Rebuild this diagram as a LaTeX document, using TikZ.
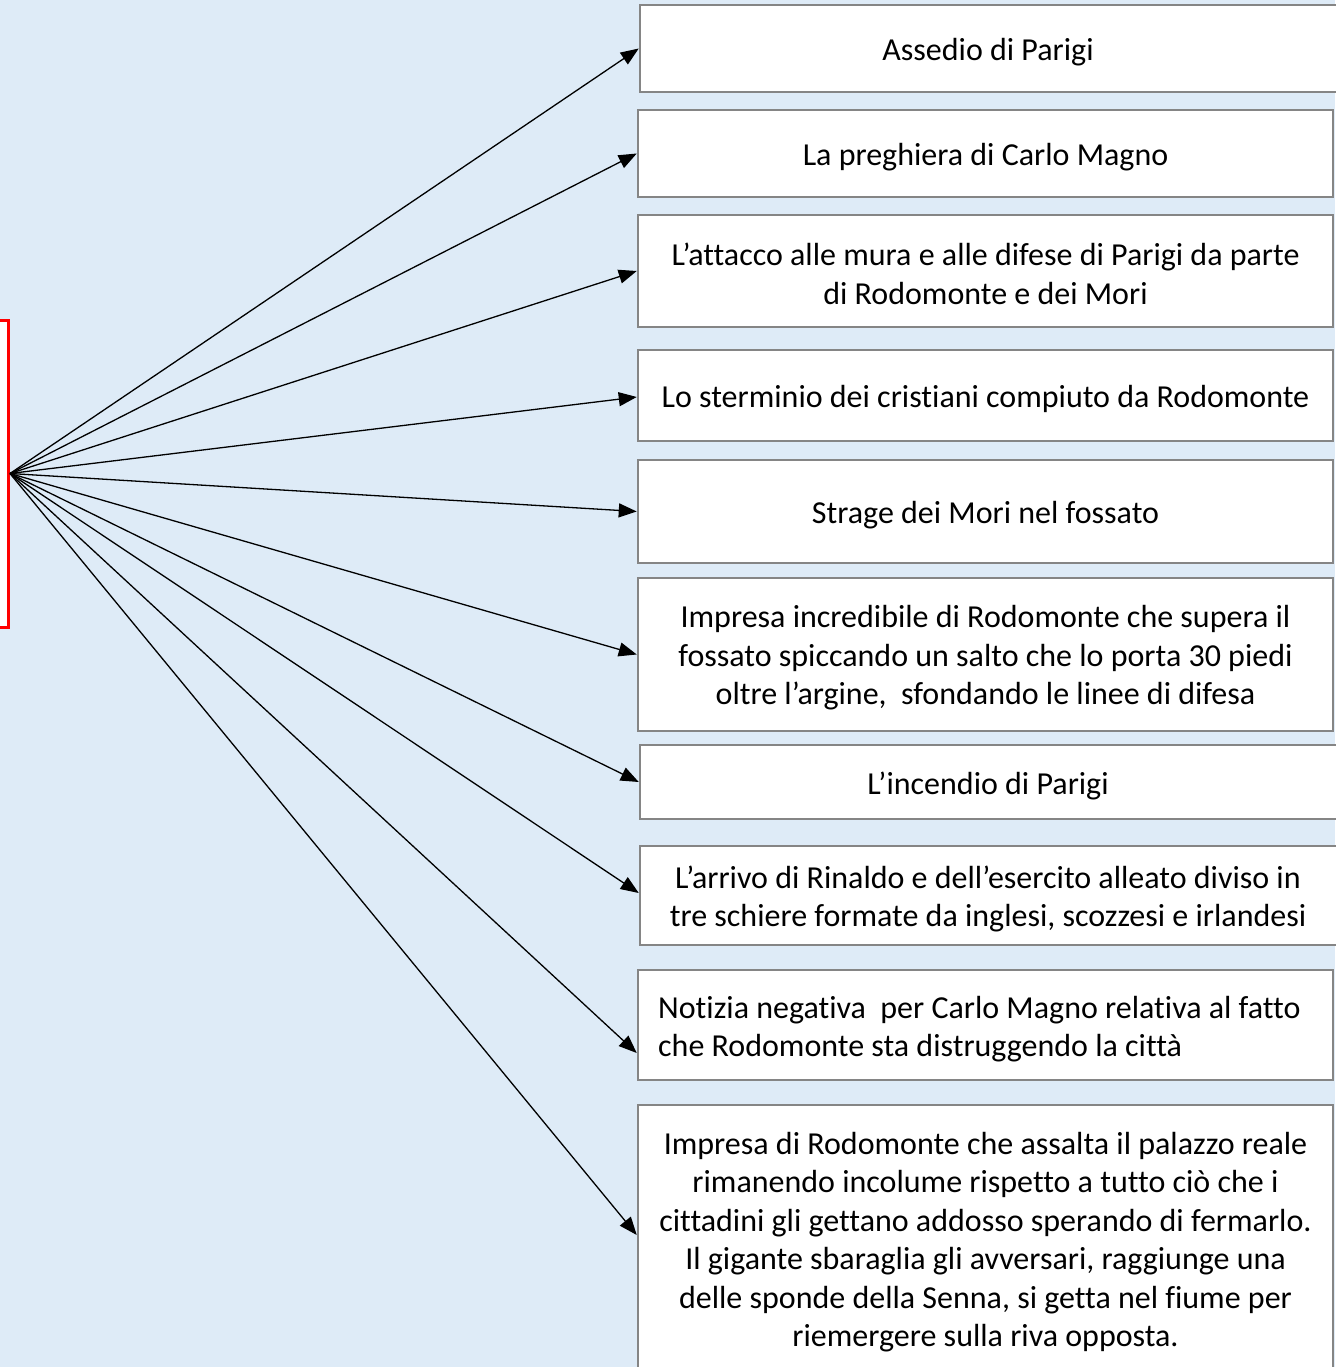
\documentclass[tikz,border=0pt]{standalone}
\usepackage{fontspec}
\setmainfont{Carlito}[Ligatures={NoCommon}]
\usetikzlibrary{arrows.meta}
\definecolor{bgblue}{HTML}{DEEBF7}
\definecolor{boxgray}{HTML}{858585}
\begin{document}
\begin{tikzpicture}[x=1pt,y=-1pt,
  evbox/.style={draw=boxgray, line width=2.5pt, fill=white, rectangle, inner sep=0pt},
  txt/.style={inner sep=0pt, align=center, font=\fontsize{32}{38.5}\selectfont},
  conn/.style={line width=1.3pt, -{Triangle[length=18pt,width=14pt]}},
]
\useasboundingbox (0,0) rectangle (1335,1367);
\fill[bgblue] (0,0) rectangle (1335,1367);

\node[draw=red, line width=3pt, fill=white, minimum width=30pt, minimum height=307pt, inner sep=0pt, anchor=east] (src) at (10,473.5) {};

\node[evbox, minimum width=700pt, minimum height=87pt] (b1) at (990,48.5) {};
\node[evbox, minimum width=695pt, minimum height=87pt] (b2) at (985.5,153.5) {};
\node[evbox, minimum width=695pt, minimum height=112pt] (b3) at (985.5,271) {};
\node[evbox, minimum width=695pt, minimum height=91pt] (b4) at (985.5,395.5) {};
\node[evbox, minimum width=695pt, minimum height=103pt] (b5) at (985.5,511.5) {};
\node[evbox, minimum width=695pt, minimum height=153pt] (b6) at (985.5,654.5) {};
\node[evbox, minimum width=700pt, minimum height=74pt] (b7) at (990,782) {};
\node[evbox, minimum width=700pt, minimum height=99pt] (b8) at (990,895.5) {};
\node[evbox, minimum width=695pt, minimum height=110pt] (b9) at (985.5,1025) {};
\node[evbox, minimum width=695pt, minimum height=267pt] (b10) at (985.5,1238.5) {};

\node[txt] (b1t) at ([xshift=-2pt,yshift=-3.5pt]b1.center) {Assedio di Parigi};
\node[txt] (b2t) at ([yshift=-3.5pt]b2.center) {La preghiera di Carlo Magno};
\node[txt] (b3t) at ([yshift=-3pt]b3.center) {L’attacco alle mura e alle difese di Parigi da parte\\di Rodomonte e dei Mori};
\node[txt] (b4t) at ([yshift=-3.5pt]b4.center) {Lo sterminio dei cristiani compiuto da Rodomonte};
\node[txt] (b5t) at ([yshift=-3.5pt]b5.center) {Strage dei Mori nel fossato};
\node[txt] (b6t) at ([yshift=-3.5pt]b6.center) {Impresa incredibile di Rodomonte che supera il\\fossato spiccando un salto che lo porta 30 piedi\\oltre l’argine,\ \ sfondando le linee di difesa};
\node[txt] (b7t) at ([xshift=-2pt,yshift=-3.5pt]b7.center) {L’incendio di Parigi};
\node[txt] (b8t) at ([xshift=-2pt,yshift=-3.5pt]b8.center) {L’arrivo di Rinaldo e dell’esercito alleato diviso in\\tre schiere formate da inglesi, scozzesi e irlandesi};
\node[txt, align=left, anchor=west] (b9t) at (658,1029) {Notizia negativa\ \ per Carlo Magno relativa al fatto\\che Rodomonte sta distruggendo la città};
\node[txt] (b10t) at ([yshift=-3.5pt]b10.center) {Impresa di Rodomonte che assalta il palazzo reale\\rimanendo incolume rispetto a tutto ciò che i\\cittadini gli gettano addosso sperando di fermarlo.\\Il gigante sbaraglia gli avversari, raggiunge una\\delle sponde della Senna, si getta nel fiume per\\riemergere sulla riva opposta.};

\draw[conn] (src.east) -- (b1.west);
\draw[conn] (src.east) -- (b2.west);
\draw[conn] (src.east) -- (b3.west);
\draw[conn] (src.east) -- ([yshift=-1.5pt]b4.west);
\draw[conn] (src.east) -- (b5.west);
\draw[conn] (src.east) -- (b6.west);
\draw[conn] (src.east) -- (b7.west);
\draw[conn] (src.east) -- ([yshift=2.5pt]b8.west);
\draw[conn] (src.east) -- ([yshift=-28pt]b9.west);
\draw[conn] (src.east) -- ([yshift=3.5pt]b10.west);
\end{tikzpicture}
\end{document}
